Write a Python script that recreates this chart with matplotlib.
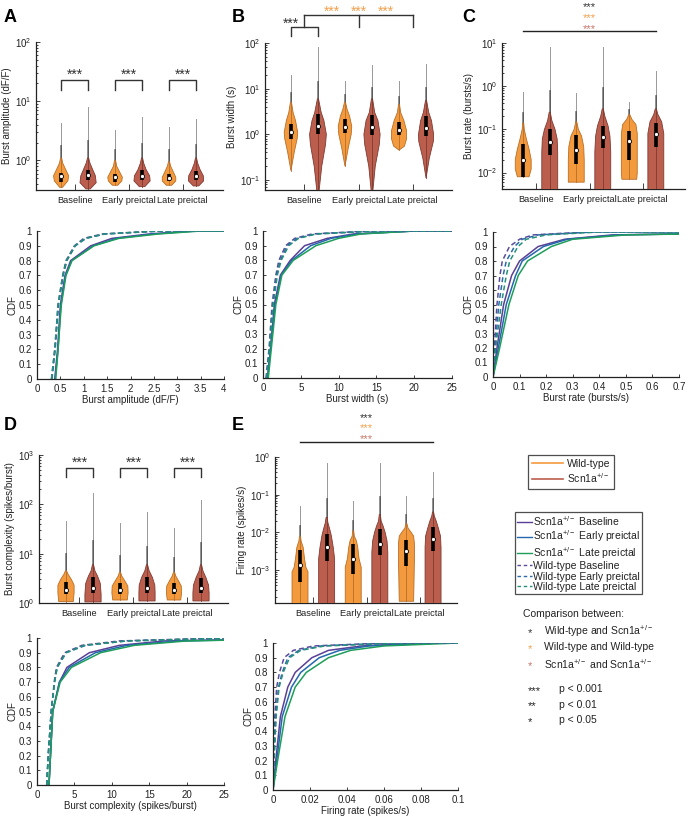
import numpy as np
import matplotlib
matplotlib.use('Agg')
import matplotlib.pyplot as plt
from matplotlib.lines import Line2D
from matplotlib.ticker import LogLocator, FuncFormatter, NullFormatter

plt.rcParams['font.family'] = ['Liberation Sans', 'DejaVu Sans']
plt.rcParams['mathtext.fontset'] = 'custom'
plt.rcParams['mathtext.rm'] = 'Liberation Sans'
plt.rcParams['mathtext.it'] = 'Liberation Sans:italic'
plt.rcParams['font.size'] = 7
plt.rcParams['text.color'] = '#222222'
plt.rcParams['axes.labelcolor'] = '#222222'

W, H = 688, 816

groups = ['Baseline', 'Early preictal', 'Late preictal']
positions = [1, 2, 3, 4, 5, 6]   # WT base, Scn base, WT early, Scn early, WT late, Scn late
group_centres = [1.5, 3.5, 5.5]

wt_face, wt_edge = '#F39A3E', '#B86E28'
scn_face, scn_edge = '#BC5E4E', '#7E3A30'
star_black, star_orange, star_red = '#333333', '#F2A04E', '#C8766A'

# ---- violin data (outline y values / half widths, tail max, median, quartiles)
amp_y = [[0.35, 0.45, 0.55, 0.7, 0.9, 1.1], [0.33, 0.42, 0.55, 0.7, 0.9, 1.1],
         [0.38, 0.45, 0.52, 0.65, 0.8, 1.0], [0.36, 0.45, 0.55, 0.7, 0.9, 1.1],
         [0.38, 0.45, 0.52, 0.65, 0.8, 0.95], [0.37, 0.45, 0.55, 0.7, 0.9, 1.1]]
amp_w = [[0.05, 0.25, 0.28, 0.17, 0.06, 0.02], [0.08, 0.3, 0.27, 0.17, 0.07, 0.02],
         [0.1, 0.25, 0.27, 0.16, 0.06, 0.02], [0.1, 0.3, 0.28, 0.15, 0.06, 0.02],
         [0.1, 0.25, 0.25, 0.15, 0.06, 0.02], [0.1, 0.28, 0.27, 0.15, 0.06, 0.02]]
amp_max = [4.3, 8.0, 3.3, 5.5, 3.6, 5.0]
amp_med = [0.54, 0.56, 0.52, 0.55, 0.51, 0.54]
amp_q1 = [0.43, 0.47, 0.44, 0.47, 0.45, 0.47]
amp_q3 = [0.62, 0.68, 0.6, 0.68, 0.58, 0.65]

wid_y = [[0.16, 0.4, 0.8, 1.1, 2.0, 3.0, 5.0], [0.05, 0.2, 0.6, 1.0, 2.0, 3.0, 6.0],
         [0.2, 0.5, 1.0, 1.5, 2.5, 3.5, 5.0], [0.05, 0.2, 0.6, 1.0, 2.0, 3.0, 6.0],
         [0.45, 0.55, 0.8, 1.2, 2.0, 3.0, 4.5], [0.11, 0.3, 0.7, 1.0, 2.0, 3.0, 5.5]]
wid_w = [[0.0, 0.12, 0.23, 0.25, 0.17, 0.08, 0.02], [0.03, 0.14, 0.28, 0.31, 0.22, 0.12, 0.02],
         [0.0, 0.12, 0.23, 0.25, 0.17, 0.08, 0.02], [0.02, 0.12, 0.27, 0.3, 0.22, 0.1, 0.02],
         [0.0, 0.2, 0.28, 0.28, 0.18, 0.06, 0.02], [0.0, 0.12, 0.27, 0.28, 0.2, 0.1, 0.02]]
wid_max = [20, 80, 15, 33, 15, 35]
wid_med = [1.15, 1.5, 1.45, 1.45, 1.25, 1.35]
wid_q1 = [0.8, 1.0, 1.05, 0.95, 0.95, 0.9]
wid_q3 = [1.7, 2.8, 2.2, 2.6, 1.9, 2.5]

rate_y = [[0.008, 0.012, 0.02, 0.035, 0.06, 0.1, 0.14], [0.004, 0.01, 0.03, 0.06, 0.1, 0.16, 0.25],
          [0.006, 0.01, 0.02, 0.04, 0.07, 0.1, 0.15], [0.004, 0.01, 0.03, 0.07, 0.12, 0.2, 0.3],
          [0.007, 0.01, 0.03, 0.08, 0.13, 0.17, 0.22], [0.004, 0.01, 0.03, 0.08, 0.15, 0.22, 0.3]]
rate_w = [[0.22, 0.3, 0.3, 0.22, 0.12, 0.04, 0.02], [0.3, 0.3, 0.3, 0.28, 0.2, 0.08, 0.02],
          [0.3, 0.3, 0.3, 0.28, 0.2, 0.08, 0.02], [0.3, 0.3, 0.3, 0.27, 0.2, 0.08, 0.02],
          [0.28, 0.3, 0.3, 0.3, 0.25, 0.1, 0.02], [0.3, 0.3, 0.3, 0.3, 0.22, 0.08, 0.02]]
rate_max = [0.75, 8.0, 0.7, 8.0, 0.43, 2.2]
rate_med = [0.02, 0.05, 0.033, 0.065, 0.055, 0.08]
rate_q1 = [0.008, 0.025, 0.016, 0.037, 0.02, 0.04]
rate_q3 = [0.045, 0.1, 0.075, 0.12, 0.09, 0.14]

cpx_y = [[1.07, 1.6, 2.3, 3.0, 3.8, 4.5], [1.05, 1.5, 2.5, 3.5, 4.5, 6.0],
         [1.15, 1.6, 2.2, 2.8, 3.5, 4.2], [1.1, 1.6, 2.3, 3.3, 4.5, 6.0],
         [1.15, 1.6, 2.2, 2.8, 3.5, 4.2], [1.1, 1.6, 2.3, 3.3, 4.5, 6.0]]
cpx_w = [[0.27, 0.3, 0.3, 0.2, 0.08, 0.02], [0.3, 0.3, 0.27, 0.17, 0.07, 0.02],
         [0.27, 0.3, 0.29, 0.18, 0.07, 0.02], [0.3, 0.3, 0.29, 0.2, 0.08, 0.02],
         [0.25, 0.28, 0.27, 0.17, 0.07, 0.02], [0.3, 0.3, 0.28, 0.18, 0.07, 0.02]]
cpx_max = [45, 170, 42, 70, 33, 120]
cpx_med = [1.8, 2.0, 1.8, 2.0, 1.8, 2.0]
cpx_q1 = [1.5, 1.6, 1.5, 1.6, 1.5, 1.6]
cpx_q3 = [2.7, 3.3, 2.6, 3.3, 2.6, 3.2]

fr_y = [[0.00013, 0.0009, 0.0012, 0.002, 0.004, 0.006, 0.008],
        [0.00013, 0.002, 0.004, 0.008, 0.012, 0.018, 0.025],
        [0.00013, 0.0012, 0.002, 0.004, 0.006, 0.008, 0.011],
        [0.00013, 0.003, 0.006, 0.01, 0.015, 0.02, 0.03],
        [0.00015, 0.002, 0.005, 0.008, 0.01, 0.013, 0.017],
        [0.00013, 0.004, 0.008, 0.013, 0.02, 0.027, 0.035]]
fr_w = [[0.3, 0.3, 0.22, 0.17, 0.12, 0.04, 0.02], [0.3, 0.3, 0.25, 0.18, 0.12, 0.05, 0.02],
        [0.3, 0.3, 0.22, 0.17, 0.12, 0.04, 0.02], [0.3, 0.3, 0.27, 0.2, 0.12, 0.05, 0.02],
        [0.27, 0.3, 0.3, 0.27, 0.18, 0.06, 0.02], [0.3, 0.3, 0.28, 0.2, 0.12, 0.05, 0.02]]
fr_max = [0.05, 0.7, 0.07, 0.7, 0.09, 0.4]
fr_med = [0.0014, 0.004, 0.002, 0.005, 0.0032, 0.0068]
fr_q1 = [0.0005, 0.0017, 0.0008, 0.0025, 0.0013, 0.0033]
fr_q3 = [0.0035, 0.009, 0.005, 0.012, 0.0065, 0.014]

# ---- CDF data: x value reached at each CDF level
# order: Scn base, Scn early, Scn late, WT base, WT early, WT late
cdf_levels = [0, 0.2, 0.5, 0.7, 0.8, 0.9, 0.95, 0.98, 1.0]
amp_cdf = [[0.38, 0.44, 0.5, 0.6, 0.72, 1.15, 1.6, 2.4, 3.3],
           [0.39, 0.45, 0.51, 0.61, 0.74, 1.2, 1.7, 2.5, 3.4],
           [0.4, 0.45, 0.52, 0.62, 0.75, 1.22, 1.75, 2.6, 3.5],
           [0.31, 0.38, 0.45, 0.55, 0.62, 0.8, 1.0, 1.4, 2.6],
           [0.32, 0.39, 0.46, 0.56, 0.64, 0.82, 1.05, 1.45, 2.7],
           [0.31, 0.38, 0.45, 0.55, 0.63, 0.81, 1.03, 1.45, 2.6]]
wid_cdf = [[0.6, 1.0, 1.5, 2.3, 3.6, 5.5, 8.5, 12, 20],
           [0.6, 1.0, 1.6, 2.4, 3.8, 6.3, 9.0, 12.5, 20],
           [0.7, 1.1, 1.7, 2.5, 4.0, 7.0, 10.0, 13, 20],
           [0.4, 0.8, 1.2, 1.7, 2.1, 3.0, 4.2, 6.5, 14],
           [0.45, 0.85, 1.3, 1.8, 2.3, 3.2, 4.5, 7, 15],
           [0.5, 0.9, 1.35, 1.9, 2.4, 3.4, 4.7, 7, 15]]
rate_cdf = [[0, 0.015, 0.04, 0.07, 0.1, 0.17, 0.27, 0.45, 1.2],
            [0, 0.02, 0.05, 0.085, 0.11, 0.19, 0.28, 0.47, 1.2],
            [0, 0.025, 0.06, 0.095, 0.13, 0.22, 0.3, 0.5, 1.2],
            [0, 0.005, 0.015, 0.026, 0.035, 0.062, 0.1, 0.15, 0.35],
            [0, 0.008, 0.022, 0.038, 0.05, 0.081, 0.11, 0.17, 0.38],
            [0, 0.01, 0.031, 0.05, 0.063, 0.094, 0.125, 0.2, 0.4]]
cpx_cdf = [[1.6, 1.8, 2.1, 3.0, 4.0, 7.0, 11, 17, 40],
           [1.6, 1.8, 2.1, 3.0, 4.3, 7.8, 12, 19, 40],
           [1.6, 1.8, 2.1, 3.1, 4.6, 8.5, 13, 20, 40],
           [1.3, 1.5, 1.9, 2.3, 2.6, 3.7, 6.0, 11, 25],
           [1.3, 1.5, 1.9, 2.35, 2.7, 3.9, 6.5, 12, 26],
           [1.3, 1.5, 1.9, 2.35, 2.7, 3.9, 6.3, 12, 26]]
fr_cdf = [[0, 0.0015, 0.004, 0.008, 0.012, 0.021, 0.03, 0.048, 0.08],
          [0, 0.002, 0.005, 0.01, 0.015, 0.025, 0.036, 0.052, 0.09],
          [0, 0.0025, 0.0065, 0.012, 0.018, 0.03, 0.042, 0.06, 0.1],
          [0, 0.0003, 0.001, 0.002, 0.0035, 0.006, 0.011, 0.022, 0.06],
          [0, 0.0005, 0.0015, 0.003, 0.005, 0.008, 0.014, 0.026, 0.065],
          [0, 0.0006, 0.0017, 0.0033, 0.0055, 0.009, 0.015, 0.028, 0.07]]

cdf_colors = ['#5B3F95', '#2567AE', '#1E9E5A', '#5B4A9A', '#2B6AA8', '#24907A']
cdf_styles = ['-', '-', '-', '--', '--', '--']
cdf_labels = ['Scn1a$^{+/-}$ Baseline', 'Scn1a$^{+/-}$ Early preictal', 'Scn1a$^{+/-}$ Late preictal',
              'Wild-type Baseline', 'Wild-type Early preictal', 'Wild-type Late preictal']


def px_axes(fig, x0, y0, x1, y1):
    return fig.add_axes([x0 / W, 1 - y1 / H, (x1 - x0) / W, (y1 - y0) / H])


def style_axes(ax):
    for s in ['top', 'right']:
        ax.spines[s].set_visible(False)
    for s in ['left', 'bottom']:
        ax.spines[s].set_linewidth(0.9)
        ax.spines[s].set_color('#222222')
    ax.tick_params(which='both', direction='in', labelsize=7, colors='#222222', width=0.6)
    ax.tick_params(which='major', length=3)
    ax.tick_params(which='minor', length=1.6)


def violin_panel(ax, ys, ws, vmax, med, q1, q3, ylim, xlim, ylabel):
    for i, pos in enumerate(positions):
        face, edge = (wt_face, wt_edge) if i % 2 == 0 else (scn_face, scn_edge)
        y = np.array(ys[i])
        w = np.array(ws[i])
        mid = y[-1] ** (2 / 3) * vmax[i] ** (1 / 3)
        ax.plot([pos, pos], [y[-1], vmax[i]], color='#333333', lw=0.7, alpha=0.5, zorder=2)
        ax.plot([pos, pos], [y[-1], mid], color='#111111', lw=1.3, alpha=0.5, zorder=2)
        ax.fill(np.r_[pos - w, (pos + w)[::-1]], np.r_[y, y[::-1]],
                facecolor=face, edgecolor=edge, lw=0.6, zorder=3)
        ax.plot([pos, pos], [y[0], y[-1]], color=edge, lw=0.6, zorder=4)
        ax.plot([pos, pos], [q1[i], q3[i]], color='k', lw=2.6, solid_capstyle='butt', zorder=5)
        ax.plot(pos, med[i], 'o', ms=3.0, mfc='white', mec='k', mew=0.6, zorder=6)
    ax.set_yscale('log')
    ax.set_ylim(ylim)
    ax.set_xlim(xlim)
    ax.set_xticks(group_centres)
    ax.set_xticklabels(groups, fontsize=6.7)
    ax.set_ylabel(ylabel, labelpad=2)
    ax.yaxis.set_major_locator(LogLocator(base=10, numticks=12))
    ax.yaxis.set_minor_locator(LogLocator(base=10, subs=np.arange(2, 10), numticks=40))
    ax.yaxis.set_minor_formatter(NullFormatter())
    style_axes(ax)
    ax.tick_params(axis='x', which='major', length=4, pad=4, labelsize=6.7)


def cdf_panel(ax, xs, xlim, xticks, xlabel):
    for i in range(6):
        x = list(xs[i])
        y = list(cdf_levels)
        if x[-1] < xlim[1]:
            x.append(xlim[1])
            y.append(y[-1])
        kw = dict(dashes=(3.2, 2.0)) if cdf_styles[i] == '--' else {}
        ax.plot(x, y, color=cdf_colors[i], lw=1.1, **kw)
    ax.set_xlim(xlim)
    ax.set_ylim(0, 1)
    ax.set_xticks(xticks)
    ax.set_yticks(np.arange(0, 1.01, 0.1))
    fmt = FuncFormatter(lambda v, p: f'{v:g}')
    ax.xaxis.set_major_formatter(fmt)
    ax.yaxis.set_major_formatter(fmt)
    ax.set_xlabel(xlabel, labelpad=1)
    ax.set_ylabel('CDF', labelpad=1)
    style_axes(ax)
    ax.tick_params(which='major', length=2)


def bracket(ax, x0, x1, ytop, ybot, color='#333333'):
    tr = ax.get_xaxis_transform()
    ax.plot([x0, x0, x1, x1], [ybot, ytop, ytop, ybot], transform=tr,
            color=color, lw=1.0, clip_on=False)


def stars(ax, x, y, color, size=10):
    ax.text(x, y, '***', transform=ax.get_xaxis_transform(), ha='center', va='center',
            fontsize=size, color=color, clip_on=False)


fig = plt.figure(figsize=(W / 100, H / 100), dpi=100)

# top row violins
axA = px_axes(fig, 36, 42, 223, 190)
violin_panel(axA, amp_y, amp_w, amp_max, amp_med, amp_q1, amp_q3,
             (10 ** -0.5, 100), (0.07, 7.0), 'Burst amplitude (dF/F)')
for g in group_centres:
    bracket(axA, g - 0.5, g + 0.5, 0.743, 0.676)
    stars(axA, g, 0.78, star_black)

axB = px_axes(fig, 265, 43, 452, 190)
violin_panel(axB, wid_y, wid_w, wid_max, wid_med, wid_q1, wid_q3,
             (10 ** -1.22, 100), (0.04, 6.96), 'Burst width (s)')
bracket(axB, 1, 2, 1.109, 1.048)
stars(axB, 1.0, 1.13, star_black)
trB = axB.get_xaxis_transform()
axB.plot([1.5, 5.5], [1.19, 1.19], transform=trB, color='#333333', lw=1.0, clip_on=False)
for g in group_centres:
    axB.plot([g, g], [1.109, 1.19], transform=trB, color='#333333', lw=1.0, clip_on=False)
for sx in [2.5, 3.5, 4.5]:
    stars(axB, sx, 1.21, star_orange)

axC = px_axes(fig, 502, 43, 685, 189)
violin_panel(axC, rate_y, rate_w, rate_max, rate_med, rate_q1, rate_q3,
             (10 ** -2.38, 10), (0.2, 7.1), 'Burst rate (bursts/s)')
axC.plot([1, 6], [1.082, 1.082], transform=axC.get_xaxis_transform(), color='#222222',
         lw=1.0, clip_on=False)
stars(axC, 3.5, 1.244, star_black, 8)
stars(axC, 3.5, 1.171, star_orange, 8)
stars(axC, 3.5, 1.098, star_red, 8)

# top row CDFs
cdf_panel(px_axes(fig, 37, 231, 224, 379), amp_cdf, (0, 4), np.arange(0, 4.01, 0.5),
          'Burst amplitude (dF/F)')
cdf_panel(px_axes(fig, 263, 231, 452, 378), wid_cdf, (0, 25), np.arange(0, 26, 5),
          'Burst width (s)')
cdf_panel(px_axes(fig, 493, 232, 679, 377), rate_cdf, (0, 0.7), np.arange(0, 0.71, 0.1),
          'Burst rate (bursts/s)')

# bottom row
axD = px_axes(fig, 39, 455, 228, 603)
violin_panel(axD, cpx_y, cpx_w, cpx_max, cpx_med, cpx_q1, cpx_q3,
             (1, 1000), (0.0, 7.0), 'Burst complexity (spikes/burst)')
for g in group_centres:
    bracket(axD, g - 0.5, g + 0.5, 0.912, 0.851)
    stars(axD, g, 0.95, star_black)

axE = px_axes(fig, 275, 457, 457, 603)
violin_panel(axE, fr_y, fr_w, fr_max, fr_med, fr_q1, fr_q3,
             (10 ** -3.87, 1), (0.06, 6.9), 'Firing rate (spikes/s)')
axE.plot([1, 6], [1.10, 1.10], transform=axE.get_xaxis_transform(), color='#222222',
         lw=1.0, clip_on=False)
stars(axE, 3.5, 1.270, star_black, 8)
stars(axE, 3.5, 1.197, star_orange, 8)
stars(axE, 3.5, 1.124, star_red, 8)

cdf_panel(px_axes(fig, 37, 638, 224, 785), cpx_cdf, (0, 25), np.arange(0, 26, 5),
          'Burst complexity (spikes/burst)')
cdf_panel(px_axes(fig, 273, 643, 458, 790), fr_cdf, (0, 0.1), np.arange(0, 0.101, 0.02),
          'Firing rate (spikes/s)')

# panel letters
for lab, (lx, ly) in zip('ABCDE', [(4, 18), (232, 18), (462, 18), (4, 425), (232, 425)]):
    fig.text(lx / W, 1 - ly / H, lab, fontsize=13, fontweight='bold', va='center', color='k')

# legends
h1 = [Line2D([], [], color=wt_face, lw=1.2), Line2D([], [], color=scn_face, lw=1.2)]
leg1 = fig.legend(h1, ['Wild-type', 'Scn1a$^{+/-}$'], loc='upper left',
                  bbox_to_anchor=(528 / W, 1 - 455 / H), frameon=True, fancybox=False,
                  edgecolor='#222222', fontsize=7.5, handlelength=3.0, borderpad=0.35,
                  labelspacing=0.25, handletextpad=0.4, borderaxespad=0)
leg1.get_frame().set_linewidth(0.9)

h2 = [Line2D([], [], color=c, lw=1.0, linestyle=s) for c, s in zip(cdf_colors, cdf_styles)]
for h in h2[3:]:
    h.set_dashes((2.5, 2.0))
leg2 = fig.legend(h2, cdf_labels, loc='upper left', bbox_to_anchor=(515 / W, 1 - 512 / H),
                  frameon=True, fancybox=False, edgecolor='#222222', fontsize=7.5,
                  handlelength=1.4, borderpad=0.2, labelspacing=0.05, handletextpad=0.15,
                  borderaxespad=0)
leg2.get_frame().set_linewidth(0.9)

# comparison key
fig.text(523 / W, 1 - 614 / H, 'Comparison between:', fontsize=7.5, va='center')
key_rows = [(star_black, 'Wild-type and Scn1a$^{+/-}$'), (star_orange, 'Wild-type and Wild-type'),
            (star_red, 'Scn1a$^{+/-}$ and Scn1a$^{+/-}$')]
for k, (col, txt) in enumerate(key_rows):
    yy = 1 - (631 + 16.5 * k) / H
    fig.text(530 / W, yy - 0.002, '*', fontsize=8, color=col, va='center', ha='center')
    fig.text(544 / W, yy, txt, fontsize=7.5, va='center')
for k, (st, txt) in enumerate([('***', 'p < 0.001'), ('**', 'p < 0.01'), ('*', 'p < 0.05')]):
    yy = 1 - (689 + 15.5 * k) / H
    fig.text(528 / W, yy - 0.002, st, fontsize=8, color='#222222', va='center', ha='left')
    fig.text(559 / W, yy, txt, fontsize=7.5, va='center')

fig.savefig('out.png', dpi=100)
